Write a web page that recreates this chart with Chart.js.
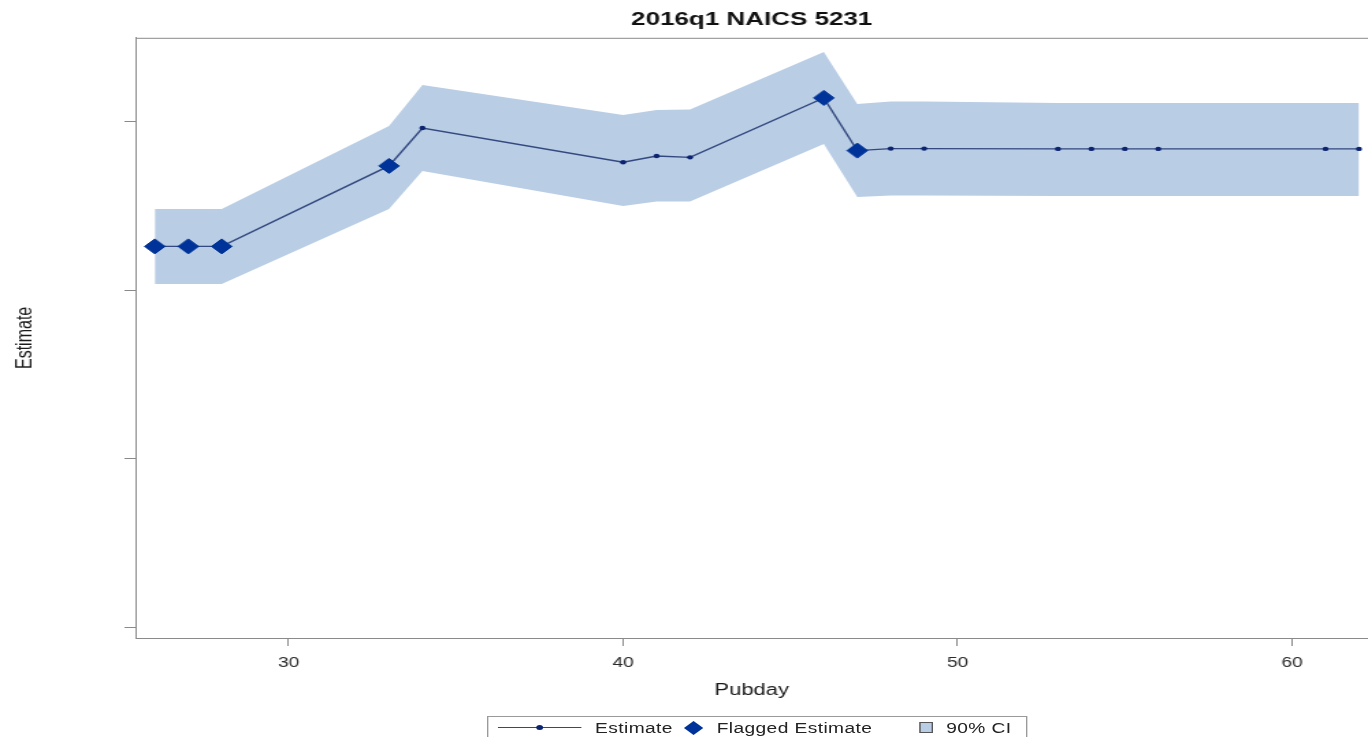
<!DOCTYPE html>
<html>
<head>
<meta charset="utf-8">
<script src="https://cdn.jsdelivr.net/npm/chart.js@4/dist/chart.umd.min.js"></script>
<style>
  html, body { margin: 0; padding: 0; background: #fff; overflow: hidden; }
  /* the reference picture is stretched sideways, so the whole figure is drawn narrow and widened */
  #wrap { position: relative; width: 1000px; height: 737px; transform: scaleX(1.368); transform-origin: 0 0; }
  #legend {
    position: absolute; left: 356px; top: 716px; width: 393px; height: 21px;
    border: 1px solid #9a9a9a; display: flex; align-items: center;
    font: 14px "Liberation Sans", Arial, sans-serif; color: #222; letter-spacing: 0.3px;
  }
  #legend .line { position: relative; width: 61px; height: 1px; background: #33487f; margin: 0 10px 0 7px; }
  #legend .line i { position: absolute; left: 28px; top: -2px; width: 5px; height: 5px; border-radius: 50%; background: #0b2370; }
  #legend .diamond { width: 10px; height: 10px; background: #003399; transform: rotate(45deg); margin: 0 12px 0 10px; }
  #legend .box { width: 8px; height: 9px; background: #b9cde5; border: 1px solid #555; margin: 0 10px 0 34px; }
</style>
</head>
<body>
<div id="wrap">
  <canvas id="chart" width="1000" height="737"></canvas>
  <div id="legend">
    <span class="line"><i></i></span><span>Estimate</span>
    <span class="diamond"></span><span>Flagged Estimate</span>
    <span class="box"></span><span>90% CI</span>
  </div>
</div>
<script>
// values (y axis carries no labels, so units are relative)
const pubday = [26, 27, 28, 33, 34, 40, 41, 42, 46, 47, 48, 49, 53, 54, 55, 56, 61, 62];
const estimate = [2.261, 2.261, 2.261, 2.739, 2.964, 2.761, 2.798, 2.790, 3.143, 2.830, 2.842, 2.842, 2.840, 2.840, 2.840, 2.840, 2.840, 2.840];
const ciLower = [2.038, 2.038, 2.038, 2.483, 2.709, 2.501, 2.527, 2.527, 2.869, 2.555, 2.563, 2.563, 2.560, 2.560, 2.560, 2.560, 2.560, 2.560];
const ciUpper = [2.483, 2.483, 2.483, 2.976, 3.220, 3.042, 3.071, 3.074, 3.416, 3.107, 3.122, 3.122, 3.113, 3.113, 3.113, 3.113, 3.113, 3.113];
const flaggedDays = [26, 27, 28, 33, 46, 47];
const xTicks = [30, 40, 50, 60];
const yTicks = [0, 1, 2, 3];

const BAND = '#b9cde5';
const LINE = '#33487f';
const DOT = '#0b2370';
const FLAG = '#003399';
const AXIS = '#8a8a8a';

const points = (ys) => pubday.map((x, i) => ({ x, y: ys[i] }));
const flagged = pubday
  .map((x, i) => ({ x, y: estimate[i] }))
  .filter(p => flaggedDays.includes(p.x));

// thin frame round the plot area
const frame = {
  id: 'frame',
  afterDraw(chart) {
    const { ctx, chartArea: a } = chart;
    ctx.save();
    ctx.strokeStyle = AXIS;
    ctx.lineWidth = 1;
    ctx.strokeRect(a.left + 0.5, a.top + 0.5, a.right - a.left, a.bottom - a.top);
    ctx.restore();
  },
};

new Chart(document.getElementById('chart'), {
  type: 'line',
  data: {
    datasets: [
      { label: 'lower', data: points(ciLower), order: 3, pointRadius: 0, borderWidth: 0, borderColor: 'transparent', fill: false },
      { label: '90% CI', data: points(ciUpper), order: 3, pointRadius: 0, borderWidth: 0, borderColor: 'transparent', backgroundColor: BAND, fill: '-1' },
      {
        label: 'Estimate', data: points(estimate), order: 2,
        borderColor: LINE, borderWidth: 1.4, pointRadius: 2.2, pointBorderWidth: 0,
        pointBackgroundColor: DOT, fill: false,
      },
      {
        label: 'Flagged Estimate', data: flagged, order: 1, showLine: false,
        pointStyle: 'rectRot', pointRadius: 7.5, pointBackgroundColor: FLAG, pointBorderColor: FLAG, pointBorderWidth: 1,
      },
    ],
  },
  options: {
    responsive: false,
    devicePixelRatio: 1,
    animation: false,
    // the plot runs right up to the page edge, no room kept for marker overflow
    layout: { autoPadding: false, padding: { left: 0, right: 0, top: 0, bottom: 36 } },
    plugins: {
      legend: { display: false },
      tooltip: { enabled: false },
      title: {
        display: true,
        text: '2016q1 NAICS 5231',
        fullSize: false,
        color: '#111',
        font: { family: '"Liberation Sans", Arial, sans-serif', size: 19, weight: 'bold' },
        padding: { top: 8, bottom: 7 },
      },
    },
    scales: {
      x: {
        type: 'linear',
        min: 25.42,
        max: 62.27,
        afterBuildTicks: (scale) => { scale.ticks = xTicks.map(value => ({ value })); },
        afterFit: (scale) => {
          scale.height = 63;
          scale.paddingLeft = 0;
          scale.paddingRight = 0;
        },
        border: { color: AXIS, width: 1 },
        grid: { drawOnChartArea: false, drawTicks: true, tickLength: 8, color: AXIS },
        ticks: { color: '#2a2a2a', padding: 9, font: { family: '"Liberation Sans", Arial, sans-serif', size: 14 } },
        title: {
          display: true, text: 'Pubday', color: '#1a1a1a',
          font: { family: '"Liberation Sans", Arial, sans-serif', size: 16 },
          padding: { top: 0, bottom: 1 },
        },
      },
      y: {
        min: -0.065,
        max: 3.5,
        afterBuildTicks: (scale) => { scale.ticks = yTicks.map(value => ({ value })); },
        afterFit: (scale) => { scale.width = 99; },
        border: { color: AXIS, width: 1 },
        grid: { drawOnChartArea: false, drawTicks: true, tickLength: 8, color: AXIS },
        ticks: { display: false },
        title: {
          display: true, text: 'Estimate', color: '#1a1a1a',
          font: { family: '"Liberation Sans", Arial, sans-serif', size: 16 },
          padding: { top: 9, bottom: 0 },
        },
      },
    },
  },
  plugins: [frame],
});
</script>
</body>
</html>
